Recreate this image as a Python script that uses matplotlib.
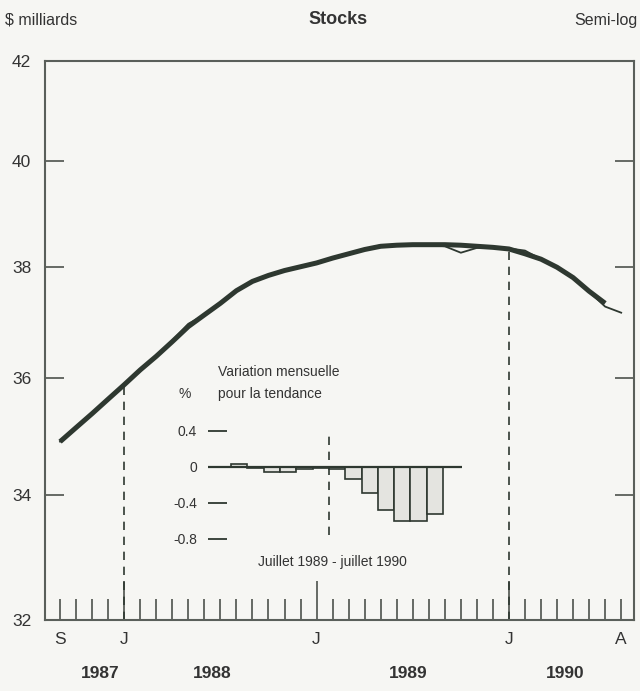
import numpy as np
import matplotlib
matplotlib.use("Agg")
import matplotlib.pyplot as plt
from matplotlib.ticker import FixedLocator, NullLocator

# -------------------------------
# Data
# -------------------------------
# months from Sep 1987 (0) to Aug 1990 (35)
months = np.arange(36)
stocks = [34.90, 35.13, 35.38, 35.62, 35.88, 36.12, 36.38, 36.66, 36.96, 37.12,
          37.33, 37.57, 37.72, 37.84, 37.92, 37.99, 38.06, 38.15, 38.25, 38.33,
          38.40, 38.41, 38.42, 38.40, 38.38, 38.26, 38.35, 38.37, 38.34, 38.30,
          38.14, 37.98, 37.80, 37.54, 37.27, 37.16]
trend = [34.90, 35.14, 35.38, 35.63, 35.88, 36.14, 36.38, 36.64, 36.91, 37.12,
         37.33, 37.56, 37.73, 37.84, 37.93, 38.00, 38.07, 38.16, 38.24, 38.32,
         38.38, 38.40, 38.41, 38.41, 38.41, 38.40, 38.38, 38.36, 38.33, 38.24,
         38.14, 37.99, 37.80, 37.55, 37.33]

month_ticks = [0, 4, 16, 28, 35]
month_labels = ["S", "J", "J", "J", "A"]
year_pos = [2.5, 9.5, 21.7, 31.5]
year_labels = ["1987", "1988", "1989", "1990"]
y_ticks = [32, 34, 36, 38, 40, 42]

# inset: monthly change of the trend (%), bar index 0 = juillet 1989
inset_idx = np.arange(-7, 7)
inset_var = [0.0, 0.03, -0.01, -0.05, -0.05, -0.02, -0.01,
             -0.02, -0.13, -0.29, -0.48, -0.60, -0.60, -0.52]
inset_ticks = [0.4, 0, -0.4, -0.8]

# -------------------------------
# Style
# -------------------------------
plt.rcParams["font.family"] = ["Liberation Sans", "DejaVu Sans"]
bg = "#f6f6f3"
ink = "#2e3830"
axc = "#5a5f5a"
W, H = 640, 691


def fx(px):
    return px / W


def fy(py):
    return 1 - py / H


fig = plt.figure(figsize=(6.4, 6.91), dpi=100, facecolor=bg)
ax = fig.add_axes([fx(45), fy(620), fx(634) - fx(45), fy(61) - fy(620)])
ax.set_facecolor(bg)

ax.plot(months[:len(trend)], trend, color=ink, lw=3.6, solid_capstyle="butt")
ax.plot(months, stocks, color=ink, lw=1.3)

ax.vlines([4], 32, trend[4], colors=ink, linestyles=(0, (5, 4)), lw=1.2)
ax.vlines([28], 32, trend[28], colors=ink, linestyles=(0, (5, 4)), lw=1.2)

ax.set_yscale("log")
ax.set_ylim(32, 42)
ax.set_xlim(-0.94, 35.8)
ax.yaxis.set_major_locator(FixedLocator(y_ticks))
ax.yaxis.set_minor_locator(NullLocator())
ax.set_yticklabels([str(v) for v in y_ticks], fontsize=12.5, color="#333333")
ax.tick_params(axis="y", direction="in", length=14, width=1.3, color=axc,
               left=True, right=True, pad=10)

ax.xaxis.set_major_locator(FixedLocator([4, 16, 28]))
ax.xaxis.set_minor_locator(FixedLocator(months))
ax.tick_params(axis="x", which="major", direction="in", length=28, width=1.3,
               color=axc, labelbottom=False)
ax.tick_params(axis="x", which="minor", direction="in", length=15, width=1.3,
               color=axc)
for s in ax.spines.values():
    s.set_color(axc)
    s.set_linewidth(1.5)

for m, lab in zip(month_ticks, month_labels):
    ax.text(m, -0.035, lab, transform=ax.get_xaxis_transform(), ha="center",
            va="center", fontsize=12.5, color="#333333")
for p, lab in zip(year_pos, year_labels):
    ax.text(p, -0.095, lab, transform=ax.get_xaxis_transform(), ha="center",
            va="center", fontsize=12.5, fontweight="bold", color="#333333")

fig.text(fx(5), fy(20), "$ milliards", ha="left", va="center", fontsize=11.5,
         color="#333333")
fig.text(fx(338), fy(20), "Stocks", ha="center", va="center", fontsize=13,
         fontweight="bold", color="#333333")
fig.text(fx(638), fy(20), "Semi-log", ha="right", va="center", fontsize=11.5,
         color="#333333")

# -------------------------------
# Inset: variation mensuelle
# -------------------------------
ins = fig.add_axes([fx(208), fy(539), fx(462) - fx(208), fy(431) - fy(539)])
ins.patch.set_alpha(0)
ins.bar(inset_idx, inset_var, width=1.0, align="edge", color="#e4e4e0",
        edgecolor=ink, linewidth=1.2)
ins.axhline(0, color=ink, lw=1.6)
ins.vlines([0], -0.76, 0.39, colors=ink, linestyles=(0, (5, 4)), lw=1.2)
ins.set_xlim(-7.42, 8.16)
ins.set_ylim(-0.8, 0.4)
ins.set_xticks([])
ins.set_yticks(inset_ticks)
ins.set_yticklabels(["0.4", "0", "-0.4", "-0.8"], fontsize=10, color="#333333")
ins.tick_params(axis="y", direction="in", length=14, width=1.3, color=ink, pad=8)
for s in ins.spines.values():
    s.set_visible(False)

fig.text(fx(218), fy(372), "Variation mensuelle", ha="left", va="center",
         fontsize=10, color="#333333")
fig.text(fx(218), fy(394), "pour la tendance", ha="left", va="center",
         fontsize=10, color="#333333")
fig.text(fx(185), fy(394), "%", ha="center", va="center", fontsize=10,
         color="#333333")
fig.text(fx(332), fy(562), "Juillet 1989 - juillet 1990", ha="center",
         va="center", fontsize=10, color="#333333")

fig.savefig("out.png", dpi=100, facecolor=bg)
